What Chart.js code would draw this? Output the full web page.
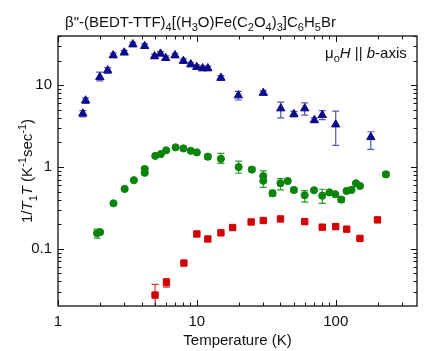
<!DOCTYPE html>
<html><head><meta charset="utf-8">
<script src="https://cdn.jsdelivr.net/npm/chart.js@4"></script>
<style>html,body{margin:0;padding:0;background:#fff}#wrap{width:424px;height:351px}</style>
</head><body><div id="wrap"><canvas id="c" width="424" height="351"></canvas></div>
<script>
// ---- data ----
const blueT  = [1.51,1.58,2.0,2.28,2.5,3.0,3.46,4.21,4.96,5.47,5.97,6.96,8.0,9.04,9.98,11.0,12.0,14.9,19.9,30.1,40.2,50,59.8,70.2,80,100,179];
const blueV  = [4.5,6.5,12.6,15.2,23.2,25.1,31.6,30.1,22.6,24.3,21.5,23.2,19.8,18.0,16.7,16.1,16.1,12.3,7.5,8.05,5.2,4.43,5.2,3.74,4.31,3.31,2.32];
const blueLo = [4.1,6.0,11.3,14.0,21.8,23.6,29.6,28.3,21.2,22.8,20.2,21.8,18.6,16.9,15.7,15.1,15.1,11.5,6.6,7.6,4.0,4.1,4.3,3.5,3.8,1.84,1.64];
const blueHi = [4.9,7.0,14.5,16.4,24.7,26.7,33.6,32.0,24.0,25.8,22.8,24.6,21.0,19.1,17.7,17.1,17.1,13.1,8.4,8.6,6.2,4.8,6.1,4.0,4.9,4.82,2.7];

const greenT  = [1.91,2.01,2.51,3.02,3.52,4.21,4.21,5.02,5.5,6.01,7.03,8.0,9.04,10.0,12.0,14.9,20,24.9,30.1,30.1,35.1,40,45.1,50,59.8,69.8,80,90.1,99.4,109.6,119.7,130,140,149.5,230];
const greenV  = [0.155,0.16,0.36,0.54,0.69,0.946,0.85,1.37,1.44,1.6,1.74,1.69,1.58,1.51,1.34,1.26,1.0,0.93,0.776,0.68,0.478,0.633,0.675,0.525,0.452,0.52,0.447,0.49,0.465,0.40,0.51,0.525,0.633,0.587,0.815];
const greenLo = [0.135,null,null,null,null,0.88,null,null,null,null,null,null,null,null,1.25,1.11,0.84,0.87,null,0.565,0.44,0.525,null,0.49,0.372,null,0.36,null,null,0.37,null,null,null,null,0.76];
const greenHi = [0.174,null,null,null,null,1.0,null,null,null,null,null,null,null,null,1.43,1.47,1.18,0.99,null,0.9,0.52,0.72,null,0.56,0.515,null,0.535,null,null,0.43,null,null,null,null,0.87];

const redT  = [5.0,6.04,8.07,10.0,12.0,14.9,18.1,24.6,30.1,40,59.8,80,100,120,149.5,200];
const redV  = [0.0272,0.0388,0.067,0.152,0.132,0.157,0.182,0.213,0.222,0.232,0.215,0.184,0.187,0.174,0.134,0.226];
const redLo = [0.015,0.0341,null,null,null,null,null,null,null,null,null,null,null,null,null,null];
const redHi = [0.0367,0.0434,null,null,null,null,null,null,null,null,null,null,null,null,null,null];

const xMajor = [1,10,100];
const xMinor = [2,3,4,5,6,7,8,9,20,30,40,50,60,70,80,90,200,300];
const yMajor = [0.1,1,10];
const yMinor = [0.02,0.03,0.04,0.05,0.06,0.07,0.08,0.09,0.2,0.3,0.4,0.5,0.6,0.7,0.8,0.9,2,3,4,5,6,7,8,9,20,30,40];

const FONT = '"Liberation Sans", Arial, sans-serif';
const pts = (t, v) => t.map((x, i) => ({x: x, y: v[i]}));

function richText(ctx, x, y, segs, size, align) {
  const subSize = Math.round(size * 0.72);
  const w = segs.map(s => {
    const sz = (s.sub || s.sup) ? subSize : size;
    ctx.font = (s.it ? 'italic ' : '') + sz + 'px ' + FONT;
    return ctx.measureText(s.t).width;
  });
  const total = w.reduce((a, b) => a + b, 0);
  let cx = align === 'center' ? x - total / 2 : x;
  segs.forEach((s, i) => {
    const sz = (s.sub || s.sup) ? subSize : size;
    ctx.font = (s.it ? 'italic ' : '') + sz + 'px ' + FONT;
    const dy = s.sub ? size * 0.3 : (s.sup ? -size * 0.38 : 0);
    ctx.fillText(s.t, cx, y + dy);
    cx += w[i];
  });
}

const errorBars = {
  id: 'errorBars',
  beforeDatasetsDraw(chart) {
    const {ctx, chartArea: a} = chart;
    const xs = chart.scales.x, ys = chart.scales.y;
    const sets = [[blueT, blueLo, blueHi, '#5858b0'], [greenT, greenLo, greenHi, '#2e9a2e'], [redT, redLo, redHi, '#d83030']];
    ctx.save();
    ctx.beginPath(); ctx.rect(a.left, a.top, a.right - a.left, a.bottom - a.top); ctx.clip();
    ctx.lineWidth = 1.2;
    sets.forEach(([t, lo, hi, col]) => {
      ctx.strokeStyle = col;
      t.forEach((tv, i) => {
        if (lo[i] == null) return;
        const px = xs.getPixelForValue(tv);
        const p1 = ys.getPixelForValue(lo[i]), p2 = ys.getPixelForValue(hi[i]);
        ctx.beginPath();
        ctx.moveTo(px, p1); ctx.lineTo(px, p2);
        ctx.moveTo(px - 3.5, p1); ctx.lineTo(px + 3.5, p1);
        ctx.moveTo(px - 3.5, p2); ctx.lineTo(px + 3.5, p2);
        ctx.stroke();
      });
    });
    ctx.restore();
  }
};

const frame = {
  id: 'frame',
  afterDraw(chart) {
    const {ctx, chartArea: a} = chart;
    const xs = chart.scales.x, ys = chart.scales.y;
    ctx.save();
    ctx.strokeStyle = '#111';
    ctx.lineWidth = 1.3;
    ctx.strokeRect(a.left, a.top, a.right - a.left, a.bottom - a.top);
    ctx.lineWidth = 1;
    const tick = (vals, len) => {
      vals.forEach(v => {
        const px = Math.round(xs.getPixelForValue(v)) + 0.5;
        if (px < a.left || px > a.right) return;
        ctx.beginPath();
        ctx.moveTo(px, a.bottom); ctx.lineTo(px, a.bottom - len);
        ctx.moveTo(px, a.top); ctx.lineTo(px, a.top + len);
        ctx.stroke();
      });
    };
    const ytick = (vals, len) => {
      vals.forEach(v => {
        const py = Math.round(ys.getPixelForValue(v)) + 0.5;
        if (py < a.top || py > a.bottom) return;
        ctx.beginPath();
        ctx.moveTo(a.left, py); ctx.lineTo(a.left + len, py);
        ctx.moveTo(a.right, py); ctx.lineTo(a.right - len, py);
        ctx.stroke();
      });
    };
    tick(xMajor, 6); tick(xMinor, 3.5);
    ytick(yMajor, 6); ytick(yMinor, 3.5);

    ctx.fillStyle = '#111';
    ctx.textBaseline = 'alphabetic';
    // title
    richText(ctx, 65, 26.5, [
      {t: 'β"-(BEDT-TTF)'}, {t: '4', sub: 1}, {t: '[(H'}, {t: '3', sub: 1}, {t: 'O)Fe(C'}, {t: '2', sub: 1},
      {t: 'O'}, {t: '4', sub: 1}, {t: ')'}, {t: '3', sub: 1}, {t: ']C'}, {t: '6', sub: 1}, {t: 'H'}, {t: '5', sub: 1}, {t: 'Br'}
    ], 15, 'left');
    // annotation
    richText(ctx, 325, 57.5, [
      {t: 'μ'}, {t: 'o', sub: 1}, {t: 'H', it: 1}, {t: ' || '}, {t: 'b', it: 1}, {t: '-axis'}
    ], 15, 'left');
    // y title
    ctx.save();
    ctx.translate(32, 171);
    ctx.rotate(-Math.PI / 2);
    richText(ctx, 0, 0, [
      {t: '1/'}, {t: 'T', it: 1}, {t: '1', sub: 1}, {t: 'T', it: 1}, {t: ' (K'}, {t: '-1', sup: 1}, {t: 'sec'}, {t: '-1', sup: 1}, {t: ')'}
    ], 15, 'center');
    ctx.restore();
    ctx.restore();
  }
};

new Chart(document.getElementById('c'), {
  type: 'scatter',
  data: {
    datasets: [
      {label: 'blue', data: pts(blueT, blueV), pointStyle: 'triangle', pointRadius: 4.8, backgroundColor: '#0a0a8c', borderColor: '#0a0a8c', borderWidth: 1},
      {label: 'green', data: pts(greenT, greenV), pointStyle: 'circle', pointRadius: 3.6, backgroundColor: '#0a840a', borderColor: '#0a840a', borderWidth: 1},
      {label: 'red', data: pts(redT, redV), pointStyle: 'rect', pointRadius: 4.5, backgroundColor: '#d20000', borderColor: '#d20000', borderWidth: 1}
    ]
  },
  options: {
    responsive: false,
    animation: false,
    devicePixelRatio: 1,
    layout: {padding: {left: 0, right: 2, top: 36, bottom: 0}},
    plugins: {legend: {display: false}, tooltip: {enabled: false}},
    scales: {
      x: {
        type: 'logarithmic', min: 1, max: 385,
        grid: {display: false, drawTicks: false}, border: {display: false},
        ticks: {autoSkip: false, maxRotation: 0, padding: 7, color: '#111', font: {family: FONT, size: 15},
          callback: v => xMajor.includes(v) ? String(v) : ''},
        title: {display: true, text: 'Temperature (K)', color: '#111', font: {family: FONT, size: 15}, padding: {top: 0, bottom: 1}},
        afterFit: s => { s.height = 45; }
      },
      y: {
        type: 'logarithmic', min: 0.02, max: 40,
        grid: {display: false, drawTicks: false}, border: {display: false},
        ticks: {autoSkip: false, padding: 6, color: '#111', font: {family: FONT, size: 15},
          callback: v => yMajor.includes(v) ? String(v) : ''},
        afterFit: s => { s.width = 58; }
      }
    }
  },
  plugins: [errorBars, frame]
});
</script></body></html>
